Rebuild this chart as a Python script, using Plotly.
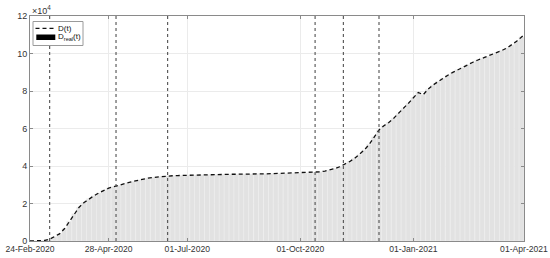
import pandas as pd
import plotly.graph_objects as go

# ---- data (units of 1e4 cases), sampled every 4 days from 24-Feb-2020 ----
start_date = "2020-02-24"
step_days = 4
d_model = [
    0.00, 0.00, 0.01, 0.03, 0.10, 0.22, 0.38, 0.65, 1.05, 1.45,
    1.80, 2.05, 2.25, 2.41, 2.56, 2.71, 2.82, 2.89, 2.95, 3.04,
    3.11, 3.18, 3.25, 3.31, 3.35, 3.39, 3.42, 3.45, 3.47, 3.48,
    3.49, 3.50, 3.51, 3.52, 3.52, 3.53, 3.53, 3.54, 3.54, 3.55,
    3.55, 3.56, 3.56, 3.57, 3.57, 3.57, 3.58, 3.58, 3.58, 3.59,
    3.59, 3.60, 3.60, 3.61, 3.61, 3.62, 3.63, 3.64, 3.66, 3.69,
    3.73, 3.78, 3.86, 3.96, 4.08, 4.23, 4.40, 4.60, 4.85, 5.15,
    5.55, 5.92, 6.15, 6.32, 6.55, 6.80, 7.07, 7.35, 7.64, 7.92,
    7.80, 8.10, 8.32, 8.51, 8.68, 8.84, 8.99, 9.13, 9.26, 9.40,
    9.52, 9.64, 9.74, 9.84, 9.94, 10.05, 10.16, 10.29, 10.45, 10.65,
    10.88,
]
d_real = [
    0.00, 0.00, 0.01, 0.03, 0.10, 0.22, 0.38, 0.65, 1.05, 1.45,
    1.80, 2.05, 2.25, 2.41, 2.56, 2.71, 2.82, 2.89, 2.95, 3.04,
    3.11, 3.18, 3.25, 3.31, 3.35, 3.39, 3.42, 3.45, 3.47, 3.48,
    3.49, 3.50, 3.51, 3.52, 3.52, 3.53, 3.53, 3.54, 3.54, 3.55,
    3.55, 3.56, 3.56, 3.57, 3.57, 3.57, 3.58, 3.58, 3.58, 3.59,
    3.59, 3.60, 3.60, 3.61, 3.61, 3.62, 3.63, 3.64, 3.66, 3.69,
    3.73, 3.78, 3.86, 3.96, 4.08, 4.23, 4.40, 4.60, 4.85, 5.15,
    5.55, 5.92, 6.15, 6.32, 6.55, 6.80, 7.07, 7.35, 7.64, 7.92,
    7.80, 8.10, 8.32, 8.51, 8.68, 8.84, 8.99, 9.13, 9.26, 9.40,
    9.52, 9.64, 9.74, 9.84, 9.94, 10.05, 10.16, 10.29, 10.45, 10.65,
    10.88,
]
end_date = "2021-04-01"
end_value = 11.00

event_dates = ["2020-03-11", "2020-05-04", "2020-06-15",
               "2020-10-13", "2020-11-05", "2020-12-04"]
x_tick_dates = ["2020-02-24", "2020-04-28", "2020-07-01",
                "2020-10-01", "2021-01-01", "2021-04-01"]
x_tick_labels = ["24-Feb-2020", "28-Apr-2020", "01-Jul-2020",
                 "01-Oct-2020", "01-Jan-2021", "01-Apr-2021"]
y_tick_vals = [0, 2, 4, 6, 8, 10, 12]
scale = 1e4
legend_labels = ["D(t)", "D<sub>real</sub>(t)"]

dates = list(pd.date_range(start_date, periods=len(d_model), freq=f"{step_days}D"))
line_x = dates + [pd.Timestamp(end_date)]
line_y = [v * scale for v in d_model] + [end_value * scale]
bar_y = [v * scale for v in d_real]

font = "Liberation Sans, Arial, sans-serif"
fig = go.Figure()

fig.add_trace(go.Bar(
    x=dates, y=bar_y, showlegend=False, hoverinfo="skip",
    width=step_days * 86400000,
    marker=dict(color="#e2e2e2", line=dict(color="#efefef", width=0.6)),
))
fig.add_trace(go.Scatter(
    x=line_x, y=line_y, mode="lines", showlegend=False, hoverinfo="skip",
    line=dict(color="#111111", width=1.3, dash="4px,3px"),
))

for d in event_dates:
    fig.add_shape(type="line", x0=d, x1=d, y0=0, y1=1, yref="paper", xref="x",
                  line=dict(color="#505050", width=1.1, dash="3px,3px"), layer="above")

# ---- manual legend (plot-area fractions: L=30px, W=494px, bottom=241px, H=225px) ----
def fx(px):
    return (px - 30) / 494.0

def fy(py):
    return (241 - py) / 225.0

fig.add_shape(type="rect", xref="paper", yref="paper",
              x0=fx(33), x1=fx(83), y0=fy(45.5), y1=fy(21.5),
              fillcolor="white", line=dict(color="#9a9a9a", width=1), layer="above")
fig.add_shape(type="line", xref="paper", yref="paper",
              x0=fx(35.5), x1=fx(55.5), y0=fy(28.3), y1=fy(28.3),
              line=dict(color="#111111", width=1.3, dash="4px,3px"), layer="above")
fig.add_shape(type="rect", xref="paper", yref="paper",
              x0=fx(36.3), x1=fx(55.3), y0=fy(40), y1=fy(34.5),
              fillcolor="black", line=dict(color="black", width=0), layer="above")
fig.add_annotation(x=fx(55.8), y=fy(28.3), xref="paper", yref="paper",
                   xanchor="left", yanchor="middle", text=legend_labels[0],
                   showarrow=False, font=dict(family=font, size=8, color="#111111"))
fig.add_annotation(x=fx(56.3), y=fy(36.8), xref="paper", yref="paper",
                   xanchor="left", yanchor="middle", text=legend_labels[1],
                   showarrow=False, font=dict(family=font, size=8, color="#111111"))

fig.add_annotation(x=0, y=1, xref="paper", yref="paper", xanchor="left",
                   yanchor="bottom", text="×10<sup>4</sup>", showarrow=False,
                   font=dict(family=font, size=9, color="#333333"), yshift=-2)

fig.update_layout(
    width=550, height=258,
    margin=dict(l=30, r=26, t=16, b=17, autoexpand=False),
    paper_bgcolor="white", plot_bgcolor="white",
    bargap=0, barmode="overlay", hovermode=False,
    font=dict(family=font, size=9, color="#333333"),
    showlegend=False,
    xaxis=dict(
        type="date", automargin=False, ticklabeloverflow="allow",
        range=[start_date, end_date],
        tickvals=x_tick_dates, ticktext=x_tick_labels,
        showgrid=True, gridcolor="#ebebeb", gridwidth=1,
        showline=True, linecolor="#8a8a8a", linewidth=1, mirror="ticks",
        ticks="inside", ticklen=3, tickcolor="#8a8a8a",
        tickfont=dict(family=font, size=8.6, color="#333333"),
        zeroline=False,
    ),
    yaxis=dict(
        automargin=False,
        range=[0, 12 * scale],
        tickvals=[v * scale for v in y_tick_vals],
        ticktext=[str(v) for v in y_tick_vals],
        showgrid=True, gridcolor="#ebebeb", gridwidth=1,
        showline=True, linecolor="#8a8a8a", linewidth=1, mirror="ticks",
        ticks="inside", ticklen=3, tickcolor="#8a8a8a",
        tickfont=dict(family=font, size=9, color="#333333"),
        zeroline=False,
    ),
)

# remove the browser's default 8px body margin so the 550x258 figure fills the window
fig.write_html(
    "out.html",
    config={"displayModeBar": False, "staticPlot": True},
    post_script="document.body.style.margin='0';document.body.style.overflow='hidden';",
)
